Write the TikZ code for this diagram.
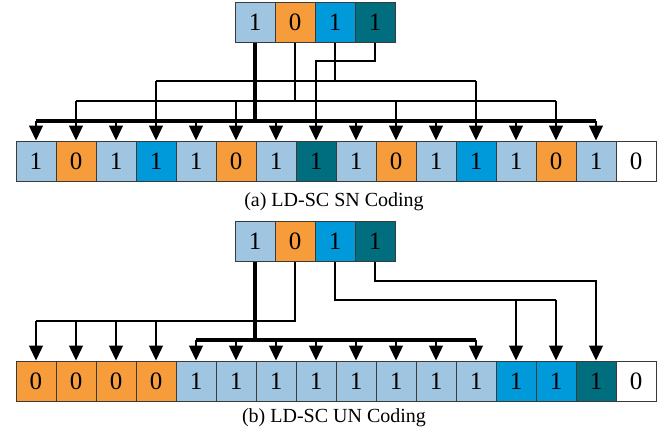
\documentclass[tikz,border=0pt]{standalone}
\usepackage{fontspec}
\setmainfont{Liberation Serif}
\usetikzlibrary{arrows.meta}

\definecolor{lblue}{HTML}{A0C5E0}
\definecolor{orng}{HTML}{F79C3A}
\definecolor{mblue}{HTML}{009ADB}
\definecolor{teal}{HTML}{006E7F}
\definecolor{cellline}{HTML}{3A3A3A}

\tikzset{
  cell/.style={draw=cellline, line width=1pt, minimum width=40pt, minimum height=40pt,
               inner sep=0pt, font=\fontsize{25}{25}\selectfont},
  cLB/.style={cell, fill=lblue},
  cOR/.style={cell, fill=orng},
  cMB/.style={cell, fill=mblue},
  cTL/.style={cell, fill=teal},
  cWH/.style={cell, fill=white},
  wire/.style={line width=1.4pt, black},
  thickwire/.style={line width=3.4pt, black},
  arrowline/.style={line width=1.4pt, black, -{Triangle[width=14pt,length=15pt]}},
  caption/.style={anchor=base, font=\fontsize{20}{20}\selectfont},
}

\begin{document}
\begin{tikzpicture}[x=1pt, y=-1pt]
\useasboundingbox (0,0) rectangle (665,439);

% ---------- (a) SN coding ----------
\node[cLB] (ta1) at (255,22) {1};
\node[cOR] (ta2) at (295,22) {0};
\node[cMB] (ta3) at (335,22) {1};
\node[cTL] (ta4) at (375,22) {1};

\foreach \i/\s/\v in {1/cLB/1,2/cOR/0,3/cLB/1,4/cMB/1,5/cLB/1,6/cOR/0,7/cLB/1,8/cTL/1,
                      9/cLB/1,10/cOR/0,11/cLB/1,12/cMB/1,13/cLB/1,14/cOR/0,15/cLB/1,16/cWH/0}
  \node[\s] (a\i) at ({36+40*(\i-1)},161) {\v};

\coordinate (busA1) at (0,121);
\coordinate (busA2) at (0,101);
\coordinate (busA3) at (0,81);
\coordinate (busA4) at (0,61);

% bit 3 -> position 8
\draw[arrowline] (ta4.south) |- (a8.north |- busA4) -- (a8.north);
% bit 2 -> positions 4, 12
\draw[wire] (ta3.south) -- (ta3.south |- busA3);
\draw[wire] (a4.north |- busA3) -- (a12.north |- busA3);
\foreach \i in {4,12} \draw[arrowline] (a\i.north |- busA3) -- (a\i.north);
% bit 0 -> positions 2, 6, 10, 14
\draw[wire] (ta2.south) -- (ta2.south |- busA2);
\draw[wire] (a2.north |- busA2) -- (a14.north |- busA2);
\foreach \i in {2,6,10,14} \draw[arrowline] (a\i.north |- busA2) -- (a\i.north);
% bit 1 -> odd positions
\draw[thickwire] (ta1.south) -- (ta1.south |- busA1);
\draw[thickwire] (a1.north |- busA1) -- (a15.north |- busA1);
\foreach \i in {1,3,...,15} \draw[arrowline] (a\i.north |- busA1) -- (a\i.north);

\node[caption] (capa) at (334,206) {(a) LD-SC SN Coding};

% ---------- (b) UN coding ----------
\node[cLB] (tb1) at (255,241) {1};
\node[cOR] (tb2) at (295,241) {0};
\node[cMB] (tb3) at (335,241) {1};
\node[cTL] (tb4) at (375,241) {1};

\foreach \i/\s/\v in {1/cOR/0,2/cOR/0,3/cOR/0,4/cOR/0,5/cLB/1,6/cLB/1,7/cLB/1,8/cLB/1,
                      9/cLB/1,10/cLB/1,11/cLB/1,12/cLB/1,13/cMB/1,14/cMB/1,15/cTL/1,16/cWH/0}
  \node[\s] (b\i) at ({36+40*(\i-1)},381) {\v};

\coordinate (busB1) at (0,340);
\coordinate (busB2) at (0,321);
\coordinate (busB3) at (0,300);
\coordinate (busB4) at (0,281);

% bit 3 -> position 15
\draw[arrowline] (tb4.south) |- (b15.north |- busB4) -- (b15.north);
% bit 2 -> positions 13, 14
\draw[wire] (tb3.south) |- (b14.north |- busB3);
\foreach \i in {13,14} \draw[arrowline] (b\i.north |- busB3) -- (b\i.north);
% bit 0 -> positions 1-4
\draw[wire] (tb2.south) |- (b1.north |- busB2);
\foreach \i in {1,...,4} \draw[arrowline] (b\i.north |- busB2) -- (b\i.north);
% bit 1 -> positions 5-12
\draw[thickwire] (tb1.south) -- (tb1.south |- busB1);
\draw[thickwire] (b5.north |- busB1) -- (b12.north |- busB1);
\foreach \i in {5,...,12} \draw[arrowline] (b\i.north |- busB1) -- (b\i.north);

\node[caption] (capb) at (334,422) {(b) LD-SC UN Coding};
\end{tikzpicture}
\end{document}
